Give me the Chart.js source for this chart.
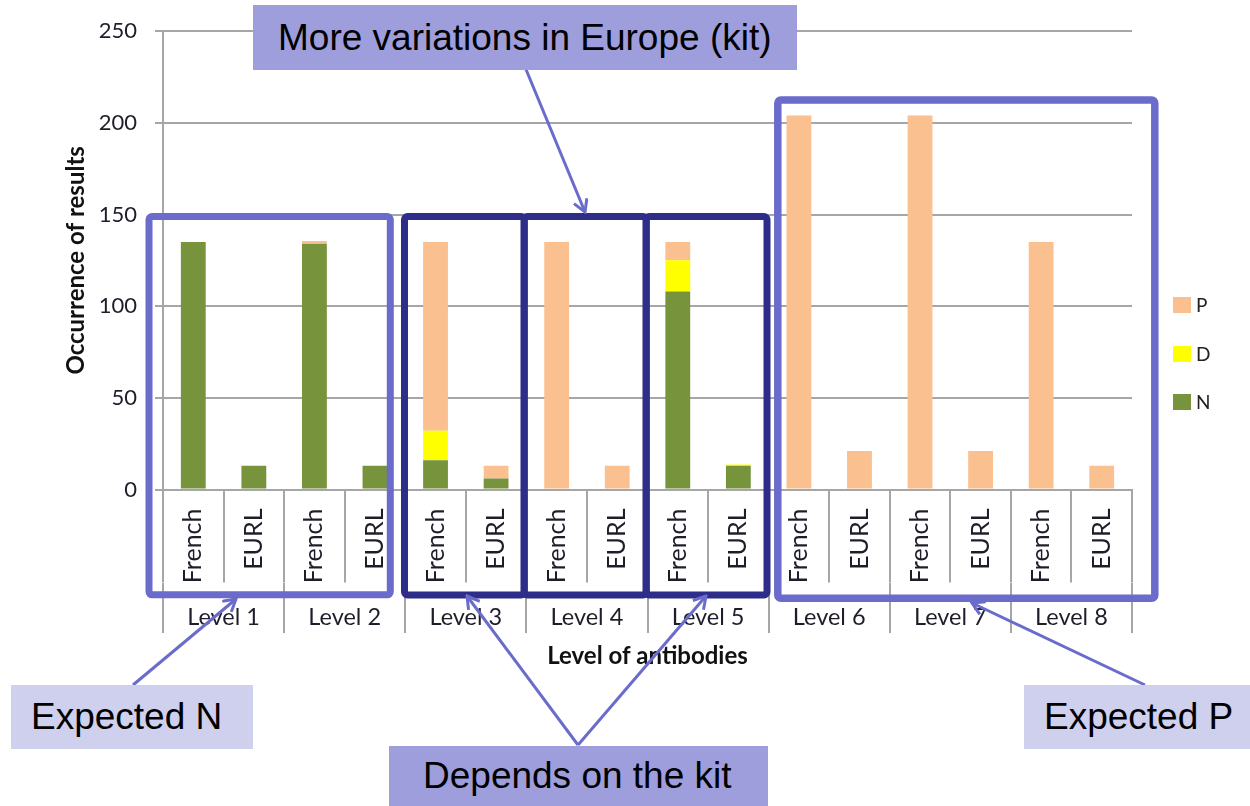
<!DOCTYPE html>
<html>
<head>
<meta charset="utf-8">
<script src="https://cdn.jsdelivr.net/npm/chart.js@4.4.1/dist/chart.umd.min.js"></script>
<style>
  body { margin: 0; background: #fff; }
  #wrap { position: relative; width: 1250px; height: 806px; overflow: hidden; }
  #chart { position: absolute; left: 0; top: 0; }
  #marks { position: absolute; left: 0; top: 0; }
  .note {
    position: absolute; box-sizing: border-box; display: flex; align-items: center;
    font-family: "Liberation Sans", Arial, sans-serif; font-size: 37px; color: #000;
    white-space: nowrap;
  }
  .dark { background: #9e9edc; }
  .light { background: #cfcfee; }
  .leg { position: absolute; font-family: Lato, sans-serif; font-size: 19px; color: #222; }
  .leg span { position: absolute; width: 18px; height: 16px; }
</style>
</head>
<body>
<div id="wrap">
  <canvas id="chart" width="1250" height="806"></canvas>
  <svg id="marks" width="1250" height="806">
    <defs>
      <marker id="head" markerUnits="userSpaceOnUse" viewBox="0 0 16 16" markerWidth="16" markerHeight="16" refX="14" refY="8" orient="auto">
        <path d="M2,1 L14,8 L2,15" fill="none" stroke="#6b6bcc" stroke-width="3"/>
      </marker>
    </defs>
    <g fill="none" stroke-linejoin="round">
      <rect x="149" y="216.5" width="241.3" height="378.3" rx="3" stroke="#6b6bcc" stroke-width="7"/>
      <rect x="404.5" y="216.5" width="119.7" height="378.5" rx="3" stroke="#2e2e8a" stroke-width="7"/>
      <rect x="524.2" y="216.5" width="122" height="378.5" rx="3" stroke="#2e2e8a" stroke-width="7"/>
      <rect x="646.2" y="216.5" width="120.8" height="378.5" rx="3" stroke="#2e2e8a" stroke-width="7"/>
      <rect x="777.8" y="100" width="377" height="498.3" rx="3" stroke="#6b6bcc" stroke-width="7.5"/>
    </g>
    <g stroke="#6b6bcc" stroke-width="3" marker-end="url(#head)">
      <line x1="525" y1="67" x2="585" y2="212"/>
      <line x1="133" y1="685" x2="236" y2="599"/>
      <line x1="578" y1="745" x2="467" y2="596"/>
      <line x1="578" y1="745" x2="706" y2="596"/>
      <line x1="1145" y1="685" x2="972" y2="603"/>
    </g>
  </svg>
  <div class="note dark" style="left:253px;top:5px;width:544px;height:65px;padding-left:25px;">More variations in Europe (kit)</div>
  <div class="note light" style="left:11px;top:685px;width:242px;height:64px;padding-left:20px;">Expected N</div>
  <div class="note dark" style="left:389px;top:746px;width:379px;height:60px;padding-left:34px;">Depends on the kit</div>
  <div class="note light" style="left:1024px;top:685px;width:226px;height:64px;padding-left:20px;">Expected P</div>
  <div id="legend"></div>
</div>
<script>
const levels = ['Level 1', 'Level 2', 'Level 3', 'Level 4', 'Level 5', 'Level 6', 'Level 7', 'Level 8'];
const sources = ['French', 'EURL'];
const seriesNames = ['N', 'D', 'P'];
const seriesColors = ['#77933c', '#ffff00', '#fac090'];
// one value per bar: French, EURL for Level 1 .. Level 8
const nValues = [135, 13, 134, 13, 16, 6, 0, 0, 108, 13, 0, 0, 0, 0, 0, 0];
const dValues = [0, 0, 0, 0, 16, 0, 0, 0, 17, 0.6, 0, 0, 0, 0, 0, 0];
const pValues = [0, 0, 1.5, 0, 103, 7, 135, 13, 10, 0, 204, 21, 204, 21, 135, 13];
const yTicks = [0, 50, 100, 150, 200, 250];

const barLabels = [];
for (let i = 0; i < levels.length; i++) {
    for (let j = 0; j < sources.length; j++) {
        barLabels.push(sources[j]);
    }
}

const gray = '#a6a6a6';
const ink = '#1e1e2a';

const datasets = [nValues, dValues, pValues].map(function (vals, i) {
    return {
        label: seriesNames[i],
        data: vals,
        backgroundColor: seriesColors[i],
        borderWidth: 0,
        barPercentage: 0.41,
        categoryPercentage: 1
    };
});

const ctx = document.getElementById('chart').getContext('2d');
const chart = new Chart(ctx, {
    type: 'bar',
    data: { labels: barLabels, datasets: datasets },
    options: {
        responsive: false,
        animation: false,
        layout: { padding: { left: 60, right: 118, top: 30, bottom: 123 } },
        plugins: { legend: { display: false }, tooltip: { enabled: false } },
        scales: {
            x: {
                stacked: true,
                offset: true,
                afterFit: function (s) { s.height = 93.5; },
                border: { color: gray, width: 2 },
                grid: { offset: true, drawOnChartArea: false, color: gray, lineWidth: 2, tickLength: 93 },
                ticks: { minRotation: 90, maxRotation: 90, autoSkip: false, padding: -74, color: ink,
                         font: { family: 'Lato', size: 25 } }
            },
            x2: {
                type: 'category',
                labels: levels,
                position: 'bottom',
                offset: true,
                weight: 1,
                afterFit: function (s) { s.height = 100; },
                border: { display: false },
                grid: { offset: true, drawOnChartArea: false, color: gray, lineWidth: 2, tickLength: 50 },
                ticks: { maxRotation: 0, autoSkip: false, padding: -30, color: ink,
                         font: { family: 'Lato', size: 23.5 } },
                title: { display: true, text: 'Level of antibodies', color: '#111',
                         font: { family: 'Lato', size: 24, weight: 'bold' }, padding: { top: 0, bottom: 12 } }
            },
            y: {
                stacked: true,
                min: 0,
                max: 250,
                afterBuildTicks: function (s) { s.ticks = yTicks.map(function (v) { return { value: v }; }); },
                afterFit: function (s) { s.width = 103; },
                border: { color: gray, width: 2 },
                grid: { color: gray, lineWidth: 2, tickLength: 8 },
                ticks: { padding: 18, color: ink, font: { family: 'Lato', size: 22 } },
                title: { display: true, text: 'Occurrence of results', color: '#111',
                         font: { family: 'Lato', size: 24, weight: 'bold' }, padding: { top: 2, bottom: 0 } }
            }
        }
    }
});

// legend built from the chart's own legend items, top item = last series
const items = Chart.defaults.plugins.legend.labels.generateLabels(chart).reverse();
const legend = document.getElementById('legend');
items.forEach(function (item, i) {
    const row = document.createElement('div');
    row.className = 'leg';
    row.style.left = '1173px';
    row.style.top = (293 + i * 48.5) + 'px';
    row.style.height = '24px';
    row.innerHTML = '<span style="left:0;top:4px;background:' + item.fillStyle + '"></span>' +
        '<b style="position:absolute;left:23px;top:0;font-weight:normal;line-height:24px">' + item.text + '</b>';
    legend.appendChild(row);
});
</script>
</body>
</html>
